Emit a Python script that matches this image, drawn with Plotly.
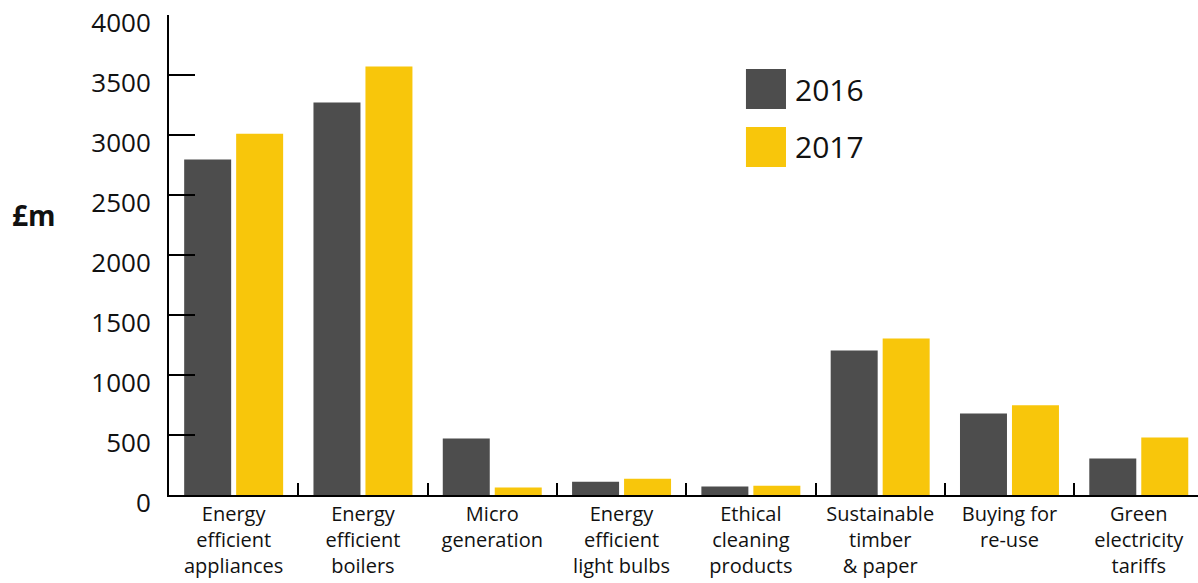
import plotly.graph_objects as go

categories = [
    "Energy<br>efficient<br>appliances",
    "Energy<br>efficient<br>boilers",
    "Micro<br>generation",
    "Energy<br>efficient<br>light bulbs",
    "Ethical<br>cleaning<br>products",
    "Sustainable<br>timber<br>& paper",
    "Buying for<br>re-use",
    "Green<br>electricity<br>tariffs",
]
values_2016 = [2795, 3270, 470, 110, 70, 1205, 680, 305]
values_2017 = [3010, 3570, 62, 136, 78, 1305, 747, 480]
series_names = ["2016", "2017"]
colors = ["#4d4d4d", "#f8c60b"]
y_ticks = [0, 500, 1000, 1500, 2000, 2500, 3000, 3500, 4000]

FONT = "Open Sans"

fig = go.Figure()
for name, vals, col in zip(series_names, [values_2016, values_2017], colors):
    fig.add_trace(go.Bar(x=categories, y=vals, name=name, marker_color=col,
                         marker_line_width=0, showlegend=False))

fig.update_layout(
    width=1198, height=583, autosize=False,
    margin=dict(l=169, r=0, t=15, b=88),
    plot_bgcolor="white", paper_bgcolor="white",
    barmode="group", bargap=0.196, bargroupgap=0.096,
    font=dict(family=FONT, color="#111111"),
    showlegend=False,
)
fig.update_yaxes(
    range=[0, 4000], tickvals=y_ticks, ticks="inside", ticklen=26, tickwidth=2,
    tickcolor="black", showline=True, linewidth=2, linecolor="black",
    showgrid=False, zeroline=False, tickfont=dict(size=26, family=FONT, color="#111111"),
    ticklabelstandoff=11, ticklabelshift=8,
)
fig.update_xaxes(
    type="category", range=[-0.5, 7.458], ticks="inside", tickson="boundaries",
    ticklen=12, tickwidth=2, tickcolor="black", showline=True, linewidth=2,
    linecolor="black", showgrid=False, tickfont=dict(size=20, family=FONT, color="#111111"),
)

# legend drawn manually (large swatches)
leg_y = [(0.8875, 0.804), (0.7667, 0.6833)]
for name, col, (y1, y0) in zip(series_names, colors, leg_y):
    fig.add_shape(type="rect", xref="paper", yref="paper", x0=0.5607, x1=0.5996,
                  y0=y0, y1=y1, fillcolor=col, line_width=0)
    fig.add_annotation(xref="paper", yref="paper", x=0.6065, y=(y0 + y1) / 2,
                       text=name, showarrow=False, xanchor="left", yanchor="middle",
                       font=dict(size=30, family=FONT, color="#111111"))

fig.add_annotation(xref="paper", yref="paper", x=(10 - 169) / 1029, y=(495 - 215) / 480,
                   text="<b>£m</b>", showarrow=False, xanchor="left", yanchor="middle",
                   font=dict(size=28, family=FONT, color="#111111"))

fig.write_html("out.html")
